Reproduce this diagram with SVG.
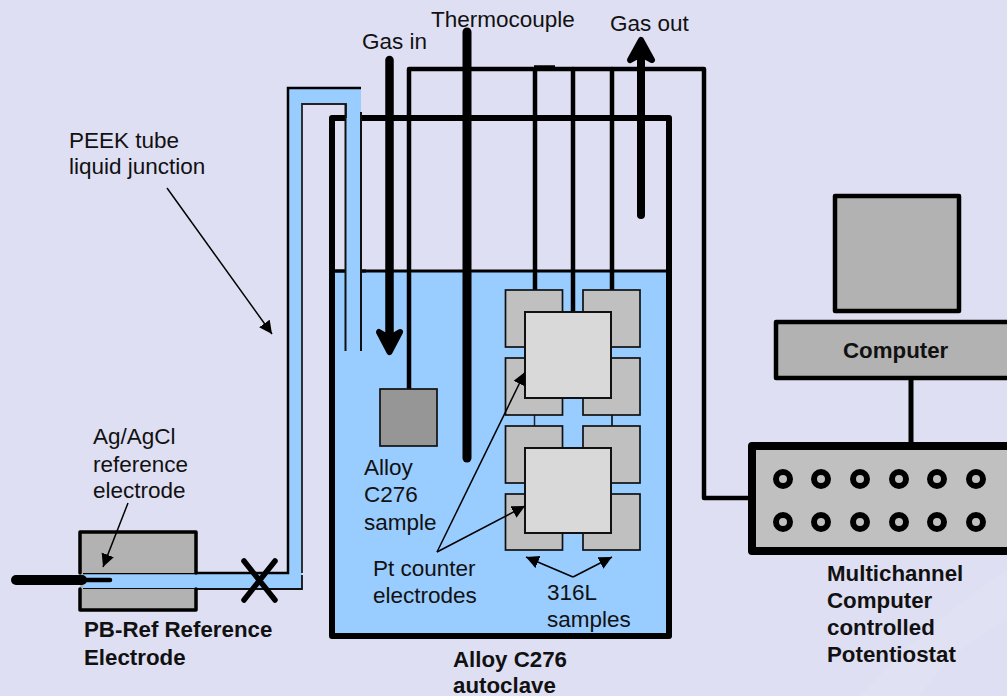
<svg xmlns="http://www.w3.org/2000/svg" width="1007" height="696" viewBox="0 0 1007 696">
<style>
text{font-family:"Liberation Sans",Arial,sans-serif;font-size:22.500px;fill:#111}
.b{font-weight:bold;font-size:22.300px}
.k{fill:none;stroke:#000;stroke-linecap:round;stroke-linejoin:round}
.thin{fill:none;stroke:#000;stroke-width:1.500}
.s{fill:#c0c0c0;stroke:#111;stroke-width:1.700}
.l{fill:#d9d9d9;stroke:#111;stroke-width:2}
.port{fill:#c0c0c0;stroke:#000;stroke-width:6}
</style>
<defs>
<marker id="a" markerUnits="userSpaceOnUse" markerWidth="14" markerHeight="14" refX="13" refY="6.500" orient="auto"><path d="M0 0L13 6.500L0 13Z" fill="#000"/></marker>
</defs>
<rect width="1007" height="696" fill="#dfdff3"/>
<path d="M860 696Q930 620 1007 570V620Q950 650 920 696Z" fill="#e1e1f4"/>

<g id="autoclave">
<rect x="332" y="271" width="337" height="365" fill="#99ccff"/>
<path class="k" d="M332 271H669" stroke-width="3"/>
<path class="k" d="M332 118H669V636H332Z" stroke-width="6"/>
</g>

<g id="connectors">
<path class="k" d="M409 388V69H704V498H750" stroke-width="4.500"/>
<path d="M534 68H555" stroke="#000" stroke-width="5.500"/>
<path class="k" d="M535 69V290" stroke-width="4.500"/>
<path class="k" d="M573 69V312" stroke-width="4.500"/>
<path class="k" d="M612 69V290" stroke-width="4.500"/>
<path d="M534.500 415V426" stroke="#223" stroke-width="1.500"/>
<path d="M612 415V426" stroke="#234" stroke-width="2"/>
<path class="k" d="M911 379V445" stroke-width="5"/>
<path class="k" d="M389.500 60V340" stroke-width="8.500"/>
<path d="M379 332L389.500 352L400 332L389.500 338Z" fill="#000" stroke="#000" stroke-width="6" stroke-linejoin="round"/>
<path class="k" d="M641 215V55" stroke-width="8"/>
<path d="M630 60L641 40L652 60L641 54Z" fill="#000" stroke="#000" stroke-width="6" stroke-linejoin="round"/>
<path class="k" d="M467 32V458" stroke-width="9"/>
</g>

<g id="peek-tube">
<path d="M83 573H288V87H361V118H346V104H302V589H83Z" fill="#99ccff"/>
<rect x="346" y="112" width="15" height="238" fill="#99ccff"/>
<path d="M333 271H346M361 271H366" stroke="#000" stroke-width="3"/>
<path d="M83 573H288V88H361" fill="none" stroke="#000" stroke-width="2.500"/>
<path d="M346 118V104H302V573" fill="none" stroke="#222" stroke-width="1.800"/>
<path d="M302 575V589H83" fill="none" stroke="#111" stroke-width="1.800"/>
<path d="M345.500 104V351M361 112V351" fill="none" stroke="#111" stroke-width="2"/>
</g>

<g id="reference-electrode">
<path d="M80 532H196V573H83V589H196V610H80Z" fill="#b2b2b2"/>
<path class="k" d="M80 573V532H196V573M196 589V610H80V589" stroke-width="3.500"/>
<path class="k" d="M16 580H82" stroke-width="10"/>
<path class="k" d="M82 580H110" stroke-width="4.500"/>
<path class="k" d="M244 561L275 600M275 561L244 600" stroke-width="5.500"/>
</g>

<g id="samples">
<rect class="s" x="505.500" y="290" width="57" height="57"/>
<rect class="s" x="583" y="290" width="57" height="57"/>
<rect class="s" x="505.500" y="358" width="57" height="57"/>
<rect class="s" x="583" y="358" width="57" height="57"/>
<rect class="s" x="505.500" y="426" width="57" height="57"/>
<rect class="s" x="583" y="426" width="57" height="57"/>
<rect class="s" x="505.500" y="494" width="57" height="56"/>
<rect class="s" x="583" y="494" width="57" height="56"/>
</g>
<g id="counter-electrodes">
<rect class="l" x="525" y="312" width="86" height="86"/>
<rect class="l" x="525" y="448" width="86" height="85"/>
</g>
<g id="alloy-sample">
<rect x="380" y="389" width="57" height="57" fill="#969696" stroke="#111" stroke-width="1.700"/>
</g>

<g id="computer">
<rect x="835" y="196" width="124" height="115" fill="#b2b2b2" stroke="#000" stroke-width="4.500" stroke-linejoin="round"/>
<rect x="776" y="322" width="240" height="56" fill="#b2b2b2" stroke="#000" stroke-width="4.500" stroke-linejoin="round"/>
<text class="b" x="843" y="358">Computer</text>
</g>

<g id="potentiostat">
<rect x="752" y="446" width="270" height="105" fill="#c0c0c0" stroke="#000" stroke-width="8" stroke-linejoin="round"/>
<circle class="port" cx="783" cy="479" r="7"/><circle class="port" cx="821" cy="479" r="7"/><circle class="port" cx="860" cy="479" r="7"/><circle class="port" cx="899" cy="479" r="7"/><circle class="port" cx="937" cy="479" r="7"/><circle class="port" cx="976" cy="479" r="7"/>
<circle class="port" cx="783" cy="522" r="7"/><circle class="port" cx="821" cy="522" r="7"/><circle class="port" cx="860" cy="522" r="7"/><circle class="port" cx="899" cy="522" r="7"/><circle class="port" cx="937" cy="522" r="7"/><circle class="port" cx="976" cy="522" r="7"/>
</g>

<g id="pointers">
<path class="thin" d="M167 188L272 334" marker-end="url(#a)"/>
<path class="thin" d="M128 503L103 567" marker-end="url(#a)"/>
<path class="thin" d="M437 552L525 372" marker-end="url(#a)"/>
<path class="thin" d="M437 552L525 506" marker-end="url(#a)"/>
<path class="thin" d="M573 577L526 557" marker-end="url(#a)"/>
<path class="thin" d="M573 577L612 557" marker-end="url(#a)"/>
</g>

<g id="labels">
<text x="431" y="27">Thermocouple</text>
<text x="362" y="49">Gas in</text>
<text x="610" y="31">Gas out</text>
<text x="69" y="148">PEEK tube</text>
<text x="69" y="174">liquid junction</text>
<text x="93" y="444">Ag/AgCl</text>
<text x="93" y="472">reference</text>
<text x="93" y="498">electrode</text>
<text class="b" x="84" y="637">PB-Ref Reference</text>
<text class="b" x="84" y="665">Electrode</text>
<text x="364" y="475">Alloy</text>
<text x="364" y="502">C276</text>
<text x="364" y="530">sample</text>
<text x="373" y="576">Pt counter</text>
<text x="373" y="603">electrodes</text>
<text x="547" y="600">316L</text>
<text x="547" y="627">samples</text>
<text class="b" x="453" y="667">Alloy C276</text>
<text class="b" x="453" y="693">autoclave</text>
<text class="b" x="827" y="581">Multichannel</text>
<text class="b" x="827" y="608">Computer</text>
<text class="b" x="827" y="635">controlled</text>
<text class="b" x="827" y="662">Potentiostat</text>
</g>
</svg>
